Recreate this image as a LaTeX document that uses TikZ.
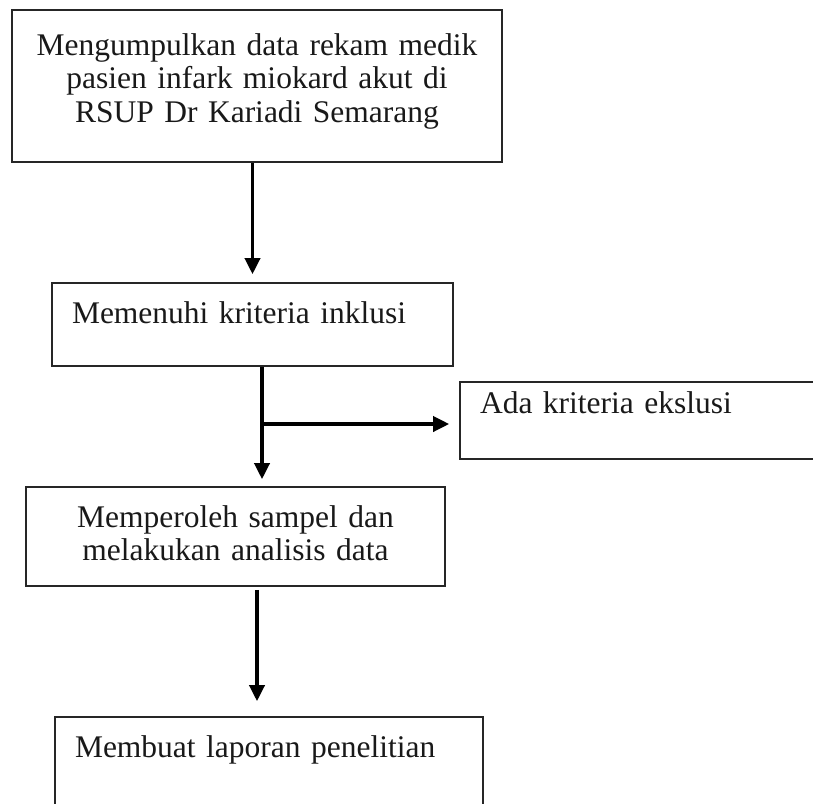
\documentclass[tikz,border=0pt]{standalone}
\usepackage{fontspec}
\setmainfont{Liberation Serif}
\usepackage{tikz}
\usetikzlibrary{arrows.meta, positioning}

\begin{document}
\begin{tikzpicture}[
    x=1pt, y=-1pt,
    box/.style ={rectangle, draw=black!85, line width=1.6pt,
                 inner xsep=20pt, inner ysep=0pt,
                 font=\fontsize{31.5}{33.5}\selectfont, text=black!90},
    arrow/.style ={-{Triangle[length=16pt, width=15pt]}, line width=3.5pt,
                   color=black}
]
\useasboundingbox (0,0) rectangle (813,803);
\clip (0,0) rectangle (813,803);

%% --- kotak-kotak alur ---
\node[box, text width=450pt, align=center, text height=45pt, text depth=107pt]
     (data) at (257,86)
     {Mengumpulkan data rekam medik\\ pasien infark miokard akut di\\ RSUP Dr Kariadi Semarang};
\node[box, text width=361pt, align=left, text height=40pt, text depth=43pt]
     (incl) at (252.5,324.5) {Memenuhi kriteria inklusi};
\node[box, text width=330pt, align=left, text height=31pt, text depth=46pt]
     (ekskl) at (645,420.5) {Ada kriteria ekslusi};
\node[box, text width=379pt, align=center, text height=40pt, text depth=59pt]
     (analisis) at (235.5,536.5) {Memperoleh sampel dan\\ melakukan analisis data};
\node[box, text width=388pt, align=left, text height=40pt, text depth=83pt]
     (laporan) at (269,778.5) {Membuat laporan penelitian};

%% --- titik bantu ---
\coordinate (cabang) at (262,424);
\coordinate (turun) at (257,650);

%% --- panah ---
\draw[arrow, shorten >=8pt] (incl.north |- data.south) -- (incl.north);
\draw[arrow, shorten >=7pt] (incl.south -| cabang) -- (analisis.north -| cabang);
\draw[arrow, shorten >=10pt] (cabang) -- (ekskl.west |- cabang);
\draw[arrow, shorten <=3pt, shorten >=15pt] (analisis.south -| turun) -- (laporan.north -| turun);
\end{tikzpicture}
\end{document}
